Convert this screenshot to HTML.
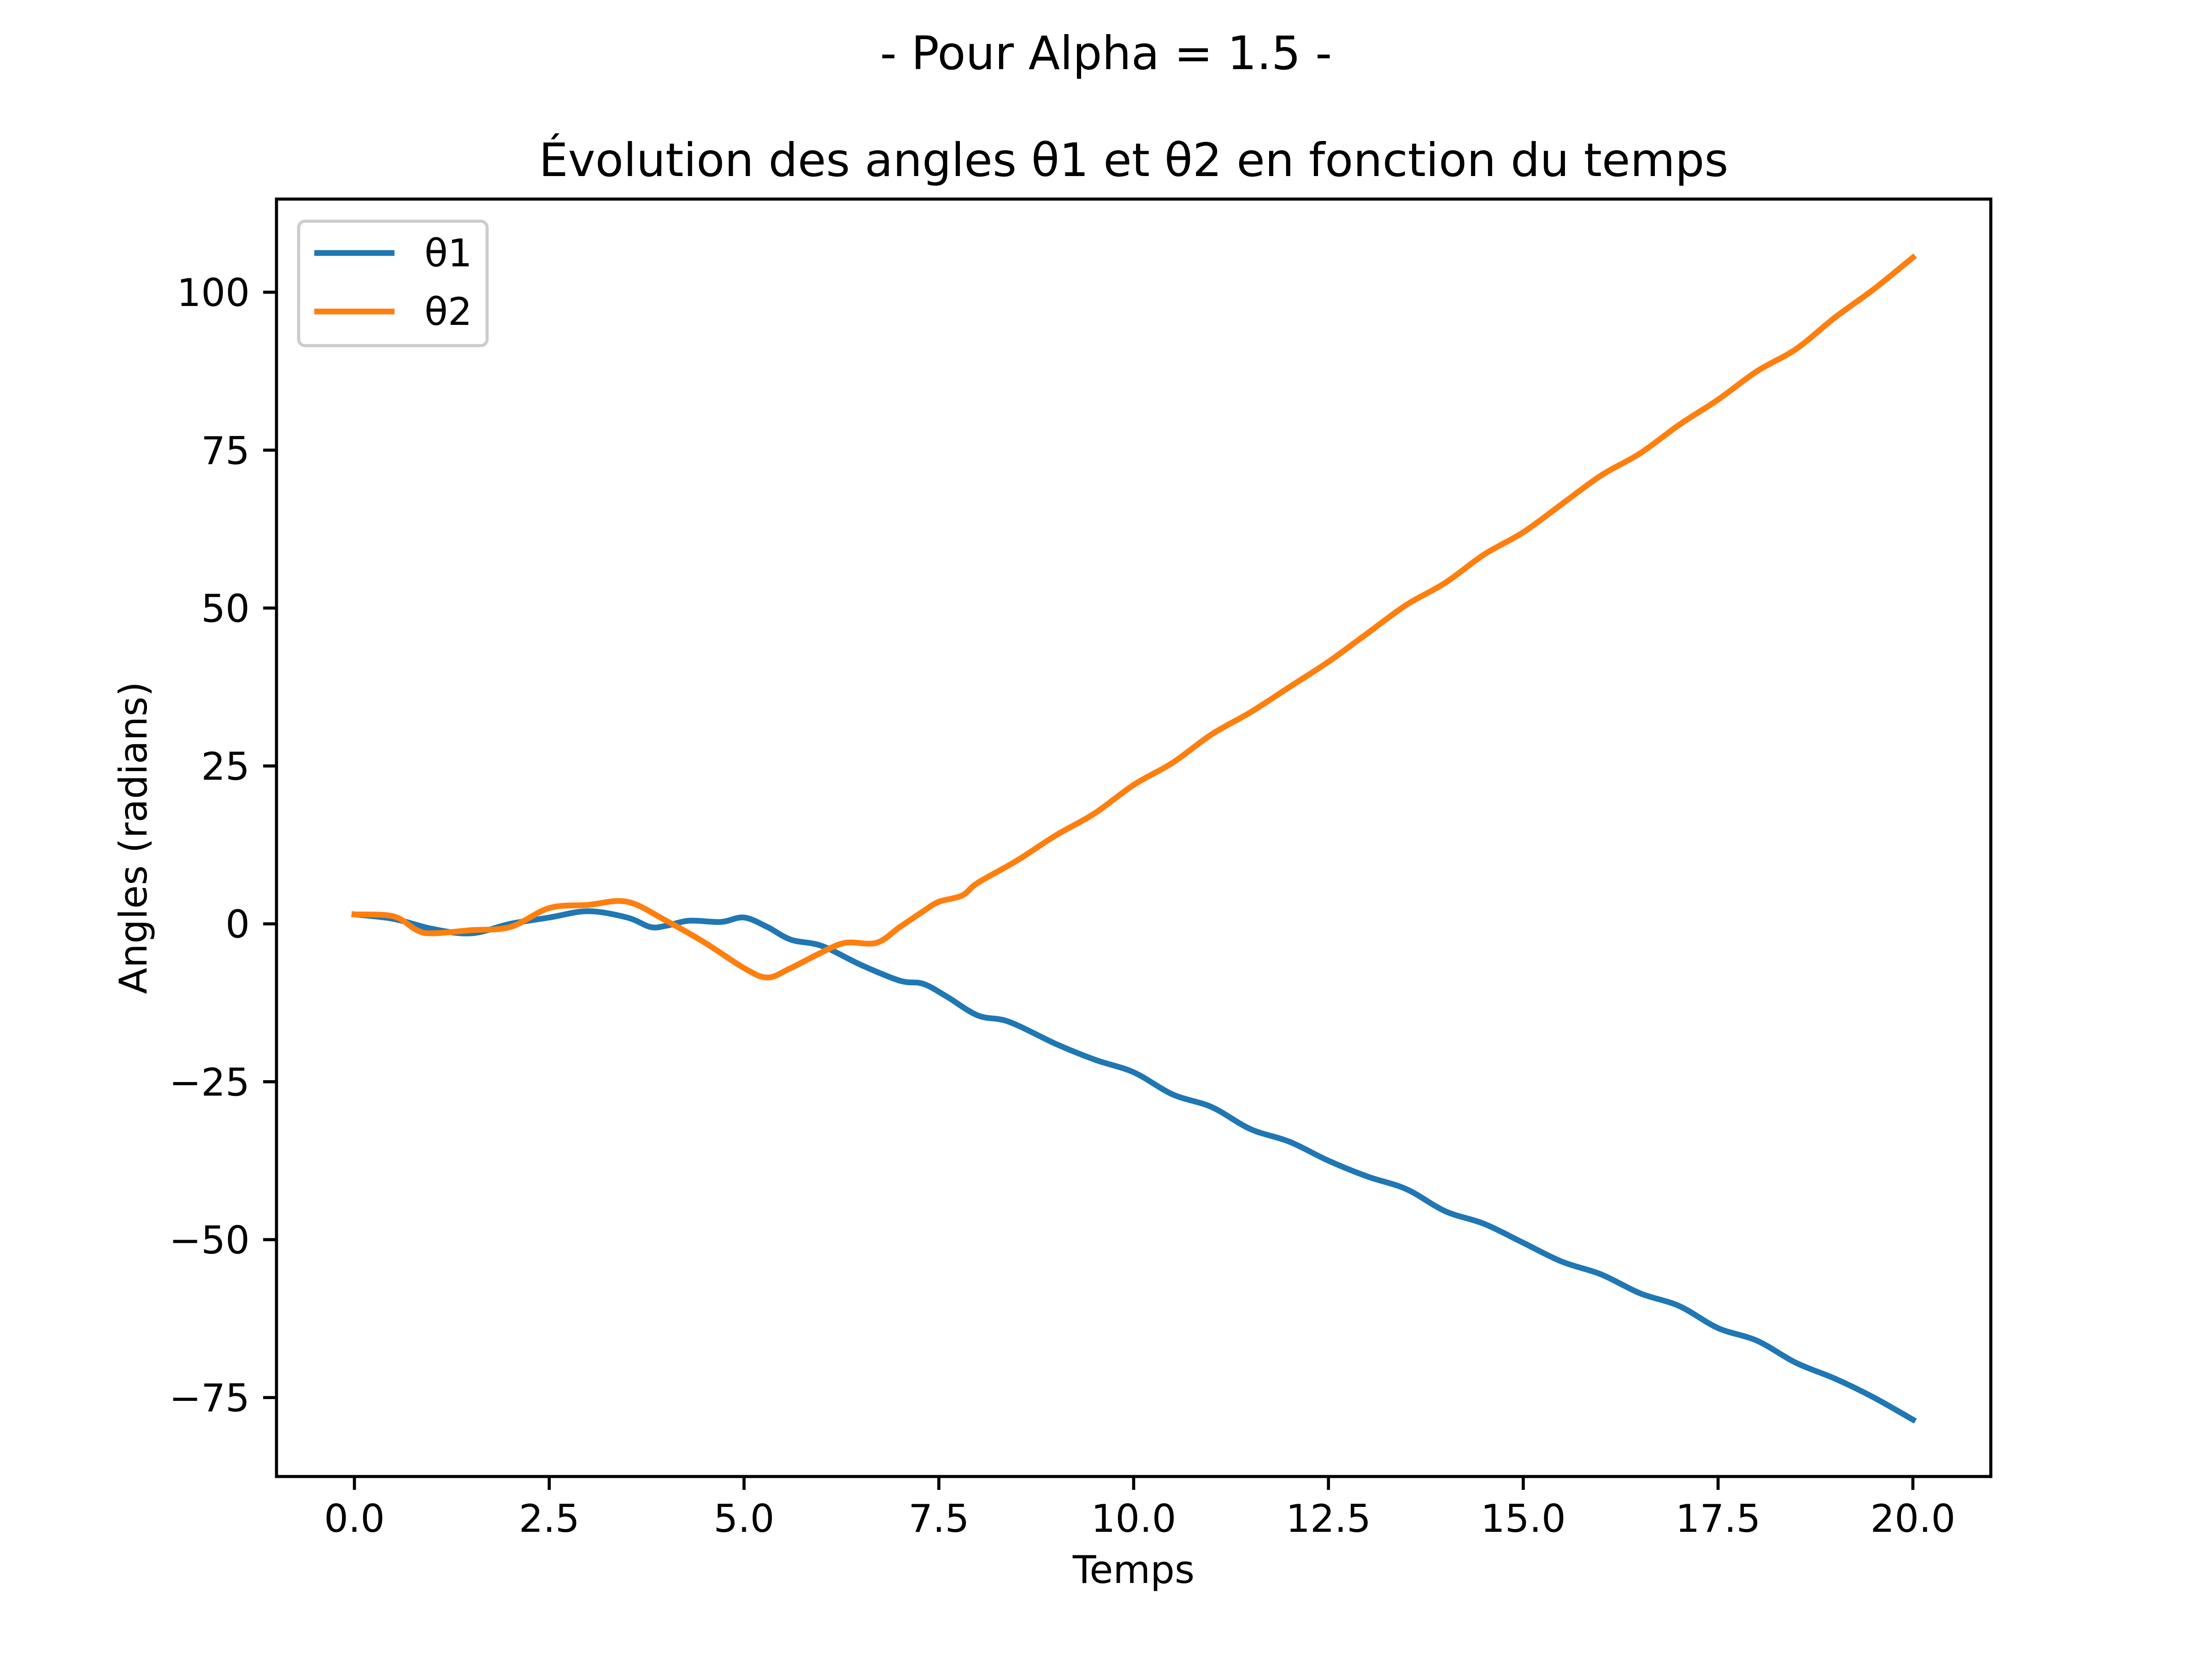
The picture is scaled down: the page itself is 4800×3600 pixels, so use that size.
<!DOCTYPE html>
<html><head><meta charset="utf-8"><style>
html,body{margin:0;padding:0;background:#fff;}
svg{display:block;font-family:"DejaVu Sans","Liberation Sans",sans-serif;}
</style></head><body>
<svg id="chart" width="4800" height="3600" viewBox="0 0 4800 3600">
<rect width="4800" height="3600" fill="#fff"/>
<text x="2400" y="150" font-size="100" text-anchor="middle">- Pour Alpha = 1.5 -</text>
<text x="2460" y="382" font-size="100" text-anchor="middle">Évolution des angles θ1 et θ2 en fonction du temps</text>
<g id="plot"></g>
<g id="xticks"></g>
<g id="yticks"></g>
<text x="2460" y="3435" font-size="83" text-anchor="middle">Temps</text>
<text x="0" y="0" font-size="83" text-anchor="middle" transform="translate(318,1818) rotate(-90)">Angles (radians)</text>
<rect x="600" y="432" width="3720" height="2772" fill="none" stroke="#000" stroke-width="6.7"/>
<g>
<rect x="648" y="480" width="409" height="270" rx="14" fill="#fff" fill-opacity="0.8" stroke="#ccc" stroke-width="6.7"/>
<line x1="682" y1="549" x2="856" y2="549" stroke="#1f77b4" stroke-width="12.5"/>
<text x="921" y="578" font-size="83">θ1</text>
<line x1="682" y1="676" x2="856" y2="676" stroke="#ff7f0e" stroke-width="12.5"/>
<text x="921" y="705" font-size="83">θ2</text>
</g>
</svg>
<script>
const t1 = [0,0.5,1,1.5,2,2.5,3,3.5,3.8,4,4.3,4.7,5,5.3,5.6,6,6.5,7,7.3,7.6,8,8.4,9,9.5,10,10.5,11,11.5,12,12.5,13,13.5,14,14.5,15,15.5,16,16.5,17,17.5,18,18.5,19,19.5,20];
const theta1 = [1.5,0.8,-0.8,-1.5,0,1,2,1,-0.5,-0.3,0.5,0.3,1,-0.5,-2.5,-3.5,-6.5,-9,-9.5,-11.5,-14.5,-15.5,-19,-21.5,-23.5,-27,-29,-32.5,-34.5,-37.5,-40,-42,-45.5,-47.5,-50.5,-53.5,-55.5,-58.5,-60.5,-64,-66,-69.5,-72,-75,-78.5];
const t2 = [0,0.5,0.8,1,1.5,2,2.5,3,3.5,4,4.5,5,5.3,5.6,6,6.3,6.7,7,7.3,7.5,7.8,8,8.5,9,9.5,10,10.5,11,11.5,12,12.5,13,13.5,14,14.5,15,15.5,16,16.5,17,17.5,18,18.5,19,19.5,20];
const theta2 = [1.5,1.2,-1,-1.5,-1,-0.5,2.5,3,3.5,0.5,-3,-7,-8.5,-7,-4.5,-3,-3,-0.5,2,3.5,4.5,6.5,10,14,17.5,22,25.5,30,33.5,37.5,41.5,46,50.5,54,58.5,62,66.5,71,74.5,79,83,87.5,91,96,100.5,105.5];
const xTicks = [0,2.5,5,7.5,10,12.5,15,17.5,20];
const xTickLabels = ["0.0","2.5","5.0","7.5","10.0","12.5","15.0","17.5","20.0"];
const yTicks = [-75,-50,-25,0,25,50,75,100];
const yTickLabels = ["\u221275","\u221250","\u221225","0","25","50","75","100"];

const NS="http://www.w3.org/2000/svg";
const X0=600,X1=4320,Y0=432,Y1=3204;
const xmin=-1,xmax=21,ymin=-87.5,ymax=114.75;
function sx(v){return X0+(v-xmin)/(xmax-xmin)*(X1-X0);}
function sy(v){return Y1-(v-ymin)/(ymax-ymin)*(Y1-Y0);}
function mk(tag,attrs,parent){const e=document.createElementNS(NS,tag);for(const k in attrs)e.setAttribute(k,attrs[k]);parent.appendChild(e);return e;}

const plot=document.getElementById('plot');
function series(ts,vs,color,name){
  const P=ts.map((t,i)=>[sx(t),sy(vs[i])]);
  let d="M"+P[0][0].toFixed(1)+","+P[0][1].toFixed(1);
  for(let i=0;i<P.length-1;i++){
    const p0=P[Math.max(0,i-1)],p1=P[i],p2=P[i+1],p3=P[Math.min(P.length-1,i+2)];
    const c1=[p1[0]+(p2[0]-p0[0])/6,p1[1]+(p2[1]-p0[1])/6];
    const c2=[p2[0]-(p3[0]-p1[0])/6,p2[1]-(p3[1]-p1[1])/6];
    d+=" C"+c1[0].toFixed(1)+","+c1[1].toFixed(1)+" "+c2[0].toFixed(1)+","+c2[1].toFixed(1)+" "+p2[0].toFixed(1)+","+p2[1].toFixed(1);
  }
  const p=mk('path',{d:d,fill:'none',stroke:color,'stroke-width':12.5,'stroke-linejoin':'round','stroke-linecap':'square'},plot);
  
  
}
series(t1,theta1,'#1f77b4','theta1-line');
series(t2,theta2,'#ff7f0e','theta2-line');

const xg=document.getElementById('xticks');
xTicks.forEach((v,i)=>{
  const l=mk('line',{x1:sx(v),x2:sx(v),y1:Y1,y2:Y1+29,stroke:'#000','stroke-width':6.7},xg);
  
  
  const t=mk('text',{x:sx(v),y:Y1+120,'font-size':83,'text-anchor':'middle'},xg);
  t.textContent=xTickLabels[i];
  
  
});
const yg=document.getElementById('yticks');
yTicks.forEach((v,i)=>{
  const l=mk('line',{x1:X0-29,x2:X0,y1:sy(v),y2:sy(v),stroke:'#000','stroke-width':6.7},yg);
  
  
  const t=mk('text',{x:X0-58,y:sy(v)+30,'font-size':83,'text-anchor':'end'},yg);
  t.textContent=yTickLabels[i];
  
  
});
</script>
</body></html>
